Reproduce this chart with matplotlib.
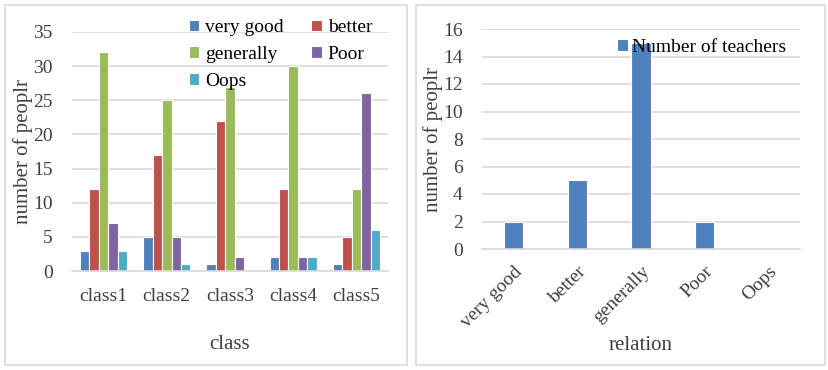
import matplotlib.pyplot as plt
import numpy as np
from matplotlib.patches import Rectangle

plt.rcParams['font.family'] = ['Liberation Serif', 'DejaVu Serif']

classes = ['class1', 'class2', 'class3', 'class4', 'class5']
levels = ['very good', 'better', 'generally', 'Poor', 'Oops']
very_good = [3, 5, 1, 2, 1]
better = [12, 17, 22, 12, 5]
generally = [32, 25, 27, 30, 12]
poor = [7, 5, 2, 2, 26]
oops = [3, 1, 0, 2, 6]
teachers = [2, 5, 15, 2, 0]

colors = ['#4F81BD', '#C0504D', '#9BBB59', '#8064A2', '#4BACC6']
grid_c = '#D9D9D9'
txt_c = '#404040'

fig = plt.figure(figsize=(8.29, 3.70), dpi=100)

# panel frames
fig.patches.append(Rectangle((5 / 829, 5 / 370), 402 / 829, 360 / 370, transform=fig.transFigure,
                             fill=False, edgecolor='#D9D9D9', lw=1.2))
fig.patches.append(Rectangle((416 / 829, 5 / 370), 409 / 829, 360 / 370, transform=fig.transFigure,
                             fill=False, edgecolor='#D9D9D9', lw=1.2))


def style_axes(ax):
    for s in ['top', 'right', 'left']:
        ax.spines[s].set_visible(False)
    ax.spines['bottom'].set_color(grid_c)
    ax.spines['bottom'].set_linewidth(1.2)
    ax.grid(axis='y', color=grid_c, lw=1.2)
    ax.set_axisbelow(True)
    ax.tick_params(length=0, labelsize=14, colors=txt_c)
    ax.tick_params(axis='y', pad=14)


# left chart
ax1 = fig.add_axes([72 / 829, 1 - 271 / 370, 316 / 829, 239 / 370])
x = np.arange(len(classes))
series = [very_good, better, generally, poor, oops]
w = 0.149
bars = []
for i, (vals, name) in enumerate(zip(series, levels)):
    bars.append(ax1.bar(x + (i - 2) * w, vals, w, color=colors[i], edgecolor='white', lw=0.8, label=name))
style_axes(ax1)
ax1.set_xlim(-0.5, 4.5)
ax1.set_ylim(0, 35)
ax1.set_yticks(range(0, 36, 5))
ax1.set_xticks(x)
ax1.set_xticklabels(classes)
ax1.tick_params(axis='x', pad=12)
ax1.set_xlabel('class', fontsize=15, color=txt_c, labelpad=22)
ax1.set_ylabel('number of peoplr', fontsize=15, color=txt_c, labelpad=0)
# row-wise order in a 2-column legend
order = [0, 2, 4, 1, 3]
ax1.legend([bars[i] for i in order], [levels[i] for i in order], ncol=2, frameon=False, fontsize=14,
           loc='upper left', bbox_to_anchor=(0.345, 1.085),
           handlelength=0.55, handleheight=0.55, handletextpad=0.3, columnspacing=1.4,
           labelspacing=0.5, borderaxespad=0)

# right chart
ax2 = fig.add_axes([482 / 829, 1 - 249 / 370, 318 / 829, 220 / 370])
x2 = np.arange(len(levels))
ax2.bar(x2, teachers, 0.3, color=colors[0], edgecolor='white', lw=0.8, label='Number of teachers')
style_axes(ax2)
ax2.set_xlim(-0.5, 4.5)
ax2.set_ylim(0, 16)
ax2.set_yticks(range(0, 17, 2))
ax2.set_xticks(x2)
ax2.set_xticklabels(levels, rotation=45, ha='right', rotation_mode='anchor')
ax2.tick_params(axis='x', pad=10)
ax2.set_xlabel('relation', fontsize=15, color=txt_c, labelpad=4)
ax2.set_ylabel('number of peoplr', fontsize=15, color=txt_c, labelpad=0)
ax2.legend(frameon=False, fontsize=14, loc='upper left', bbox_to_anchor=(0.40, 0.99),
           handlelength=0.55, handleheight=0.55, handletextpad=0.2, borderaxespad=0)

fig.savefig('out.png', dpi=100)
